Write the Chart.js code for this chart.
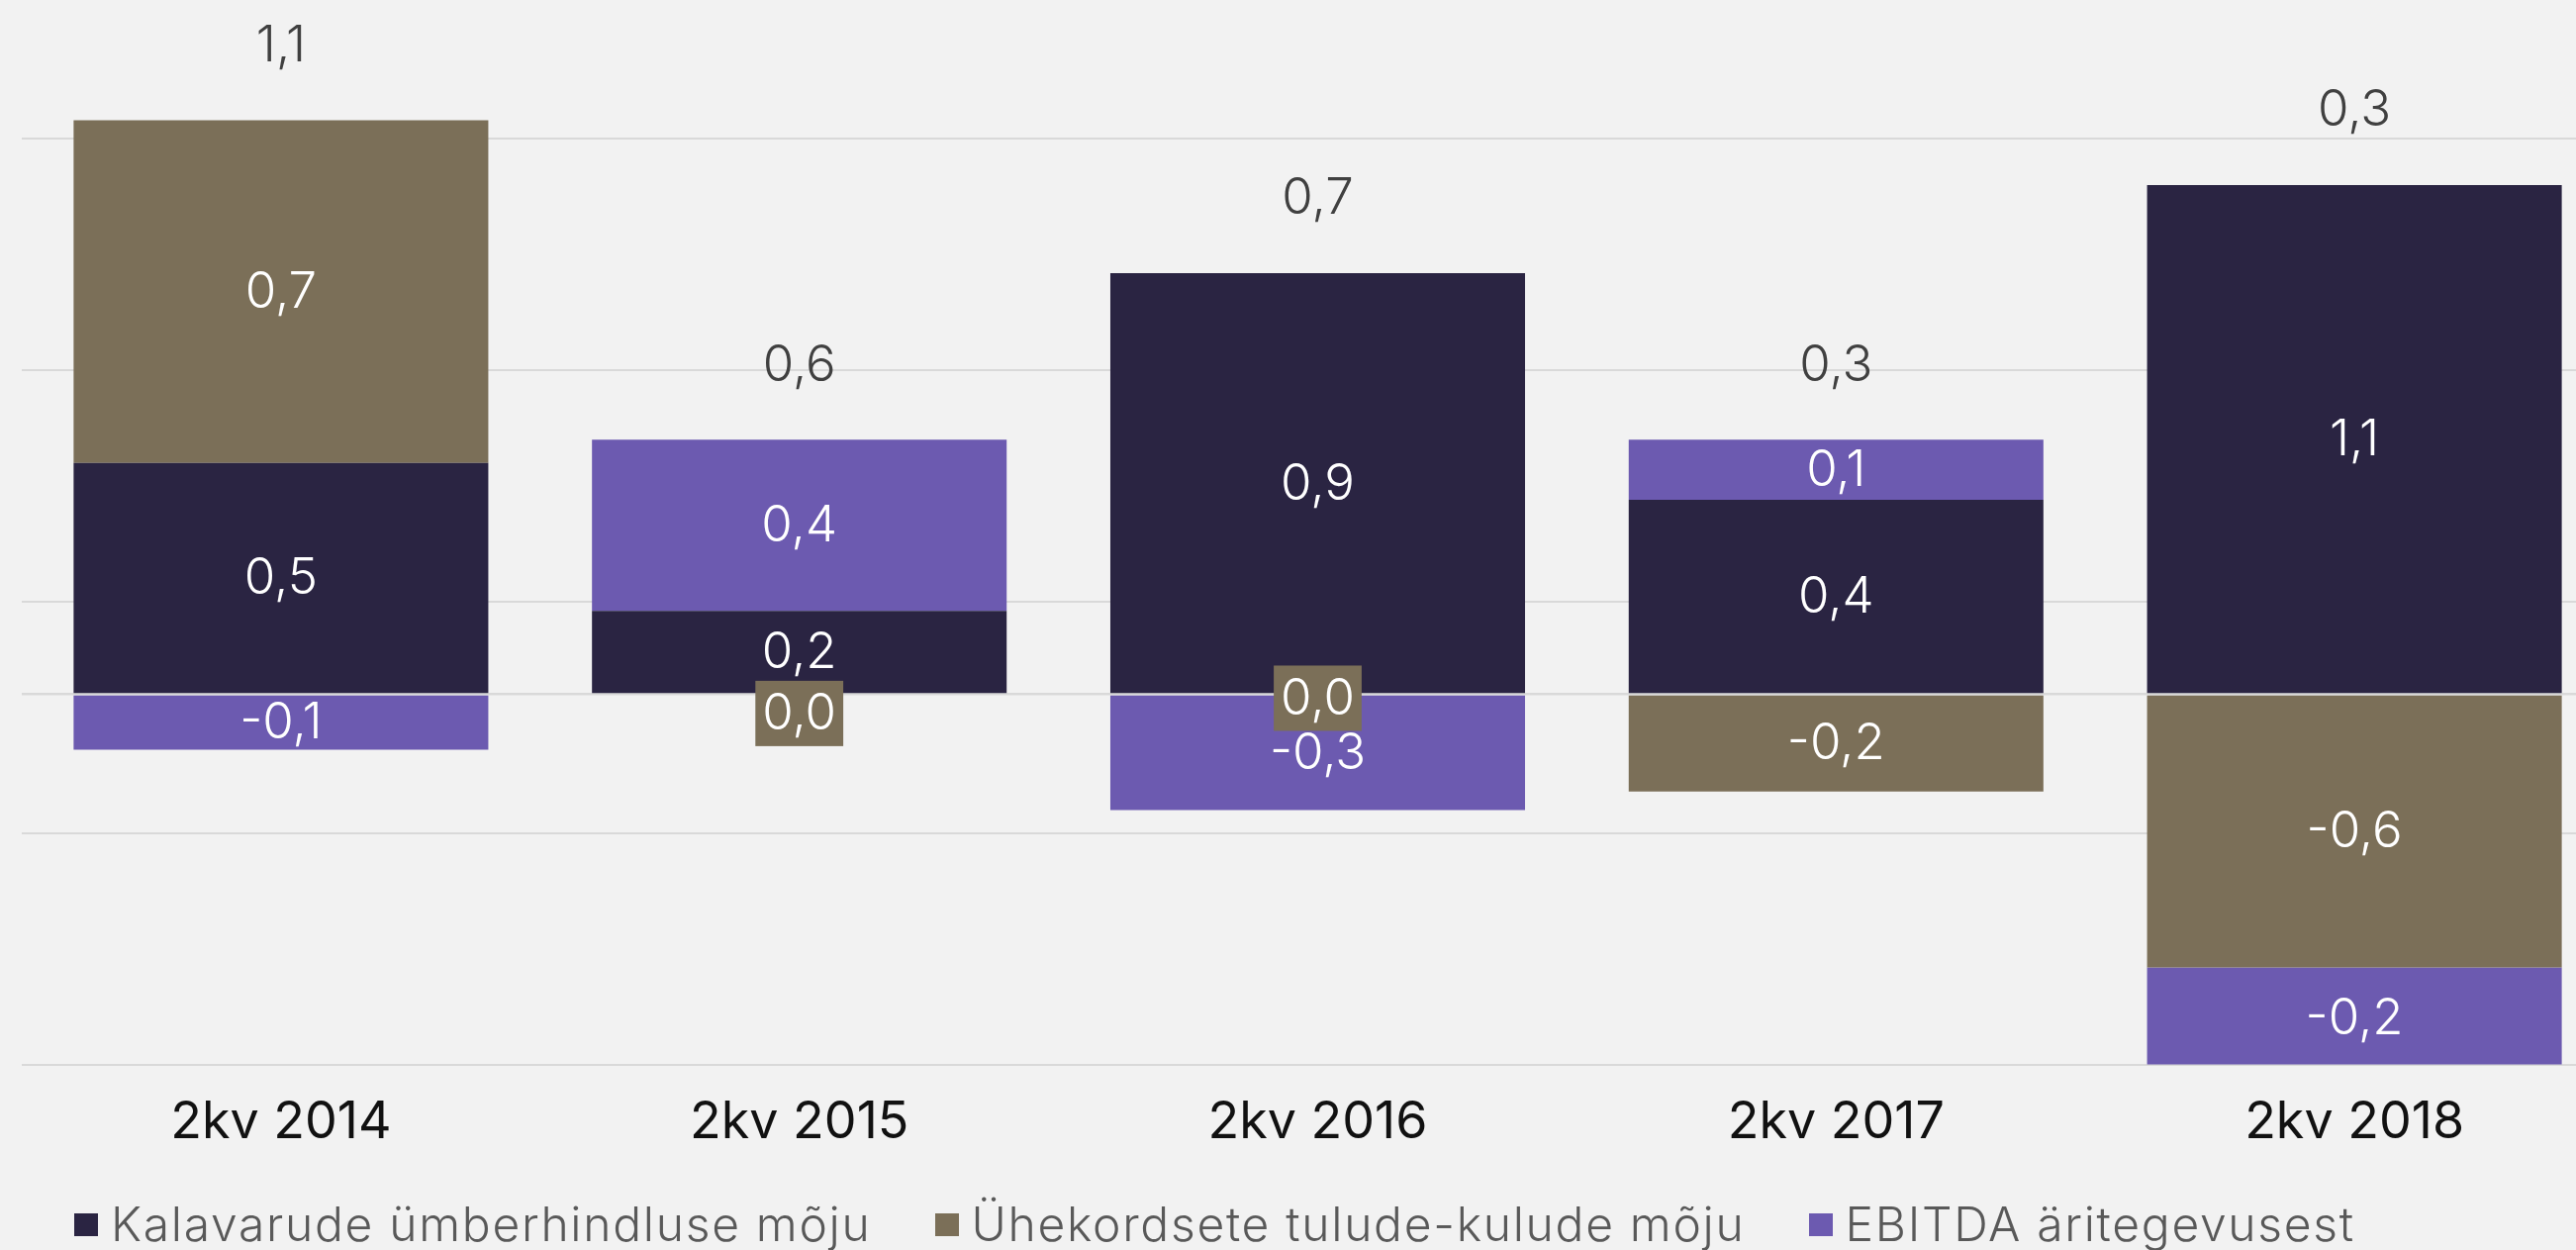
<!DOCTYPE html>
<html lang="et">
<head>
<meta charset="utf-8">
<title>Kasumi mõjurid</title>
<script src="https://cdn.jsdelivr.net/npm/chart.js@4.4.1/dist/chart.umd.min.js"></script>
<style>
  html, body { margin: 0; padding: 0; background: #f2f2f2; overflow: hidden; }
  #wrap { position: relative; width: 2641px; height: 1263px; }
  #legend {
    position: absolute; left: 75px; top: 1212px;
    display: flex; align-items: center; gap: 64px;
    font-family: Inter, Lato, sans-serif; font-weight: 300; font-size: 48px; line-height: 50px;
    letter-spacing: 1.7px; color: #595959;
    white-space: nowrap;
  }
  #legend .item { display: flex; align-items: center; }
  #legend .box { width: 24px; height: 23px; margin-right: 13px; }
</style>
</head>
<body>
<div id="wrap">
  <canvas id="chart"></canvas>
  <div id="legend"></div>
</div>
<script>
// ========== Data ==========
const categories = ['2kv 2014', '2kv 2015', '2kv 2016', '2kv 2017', '2kv 2018'];
const kalavarude = [0.50, 0.18, 0.91, 0.42, 1.10];   // Kalavarude ümberhindluse mõju
const yhekordsed = [0.74, 0.00, 0.00, -0.21, -0.59]; // Ühekordsete tulude-kulude mõju
const ebitda = [-0.12, 0.37, -0.25, 0.13, -0.22];    // EBITDA äritegevusest
const totals = [1.1, 0.6, 0.7, 0.3, 0.3];
const gridValues = [-0.8, -0.3, 0, 0.2, 0.7, 1.2];

const FONT = 'Inter, Lato, sans-serif';

const series = [
  { label: 'Kalavarude ümberhindluse mõju', data: kalavarude, color: '#2a2442' },
  { label: 'Ühekordsete tulude-kulude mõju', data: yhekordsed, color: '#7b6f58' },
  { label: 'EBITDA äritegevusest', data: ebitda, color: '#6c5ab0' }
];

function fmt(v) {
  return v.toFixed(1).replace('.', ',');
}

// ========== Labels plugin ==========
const labelsPlugin = {
  id: 'barLabels',
  afterDatasetsDraw(chart) {
    const ctx = chart.ctx;
    const area = chart.chartArea;
    const zeroY = chart.scales.y.getPixelForValue(0);
    const datasets = chart.data.datasets;
    ctx.save();

    // zero line sits on top of the bars
    ctx.strokeStyle = '#d9d9d9';
    ctx.lineWidth = 2;
    ctx.beginPath();
    ctx.moveTo(area.left, zeroY);
    ctx.lineTo(area.right, zeroY);
    ctx.stroke();

    ctx.font = '300 51px ' + FONT;
    ctx.textAlign = 'center';
    ctx.textBaseline = 'middle';

    categories.forEach((c, j) => {
      // lowest positive label, so a boxed zero label can sit under it
      let lowest = -Infinity;
      datasets.forEach((ds, i) => {
        const bar = chart.getDatasetMeta(i).data[j];
        if (ds.data[j] >= 0.05) lowest = Math.max(lowest, (bar.y + bar.base) / 2);
      });

      datasets.forEach((ds, i) => {
        const bar = chart.getDatasetMeta(i).data[j];
        const v = ds.data[j];
        const text = fmt(v);
        if (Math.abs(v) < 0.05) {
          const w = ctx.measureText(text).width + 14;
          const h = 66;
          const cy = Math.max(zeroY + 4, lowest + 62);
          ctx.fillStyle = ds.backgroundColor;
          ctx.fillRect(bar.x - w / 2, cy - h / 2, w, h);
          ctx.fillStyle = '#ffffff';
          ctx.fillText(text, bar.x, cy + 1);
        } else {
          ctx.fillStyle = '#ffffff';
          ctx.fillText(text, bar.x, (bar.y + bar.base) / 2 + 1);
        }
      });
    });

    // totals above each stack
    ctx.fillStyle = '#404040';
    totals.forEach((t, j) => {
      let top = Infinity, x = 0;
      datasets.forEach((ds, i) => {
        const bar = chart.getDatasetMeta(i).data[j];
        if (ds.data[j] !== 0) top = Math.min(top, bar.y, bar.base);
        x = bar.x;
      });
      ctx.fillText(fmt(t), x, top - 75);
    });
    ctx.restore();
  }
};

// ========== Chart ==========
const ctx = document.getElementById('chart').getContext('2d');
new Chart(ctx, {
  type: 'bar',
  data: {
    labels: categories,
    datasets: series.map(s => ({
      label: s.label,
      data: s.data,
      backgroundColor: s.color,
      borderWidth: 0,
      categoryPercentage: 1.0,
      barPercentage: 0.8
    }))
  },
  options: {
    responsive: true,
    maintainAspectRatio: false,
    animation: false,
    layout: { padding: { left: 22, right: 0, top: 0, bottom: 69 } },
    plugins: {
      legend: { display: false },
      tooltip: { enabled: false }
    },
    scales: {
      x: {
        stacked: true,
        grid: { display: false, drawTicks: false },
        border: { display: false },
        ticks: {
          padding: 28,
          color: '#111111',
          font: { family: FONT, size: 52, weight: '400' }
        }
      },
      y: {
        stacked: true,
        min: -0.8,
        max: 1.5,
        afterBuildTicks: axis => {
          axis.ticks = gridValues.map(v => ({ value: v }));
        },
        grid: { color: '#d9d9d9', lineWidth: 2, drawTicks: false },
        border: { display: false },
        ticks: { display: false }
      }
    }
  },
  plugins: [labelsPlugin]
});

// ========== Legend ==========
const legend = document.getElementById('legend');
series.forEach(s => {
  const item = document.createElement('div');
  item.className = 'item';
  item.innerHTML = `<span class="box" style="background:${s.color}"></span><span>${s.label}</span>`;
  legend.appendChild(item);
});
</script>
</body>
</html>
